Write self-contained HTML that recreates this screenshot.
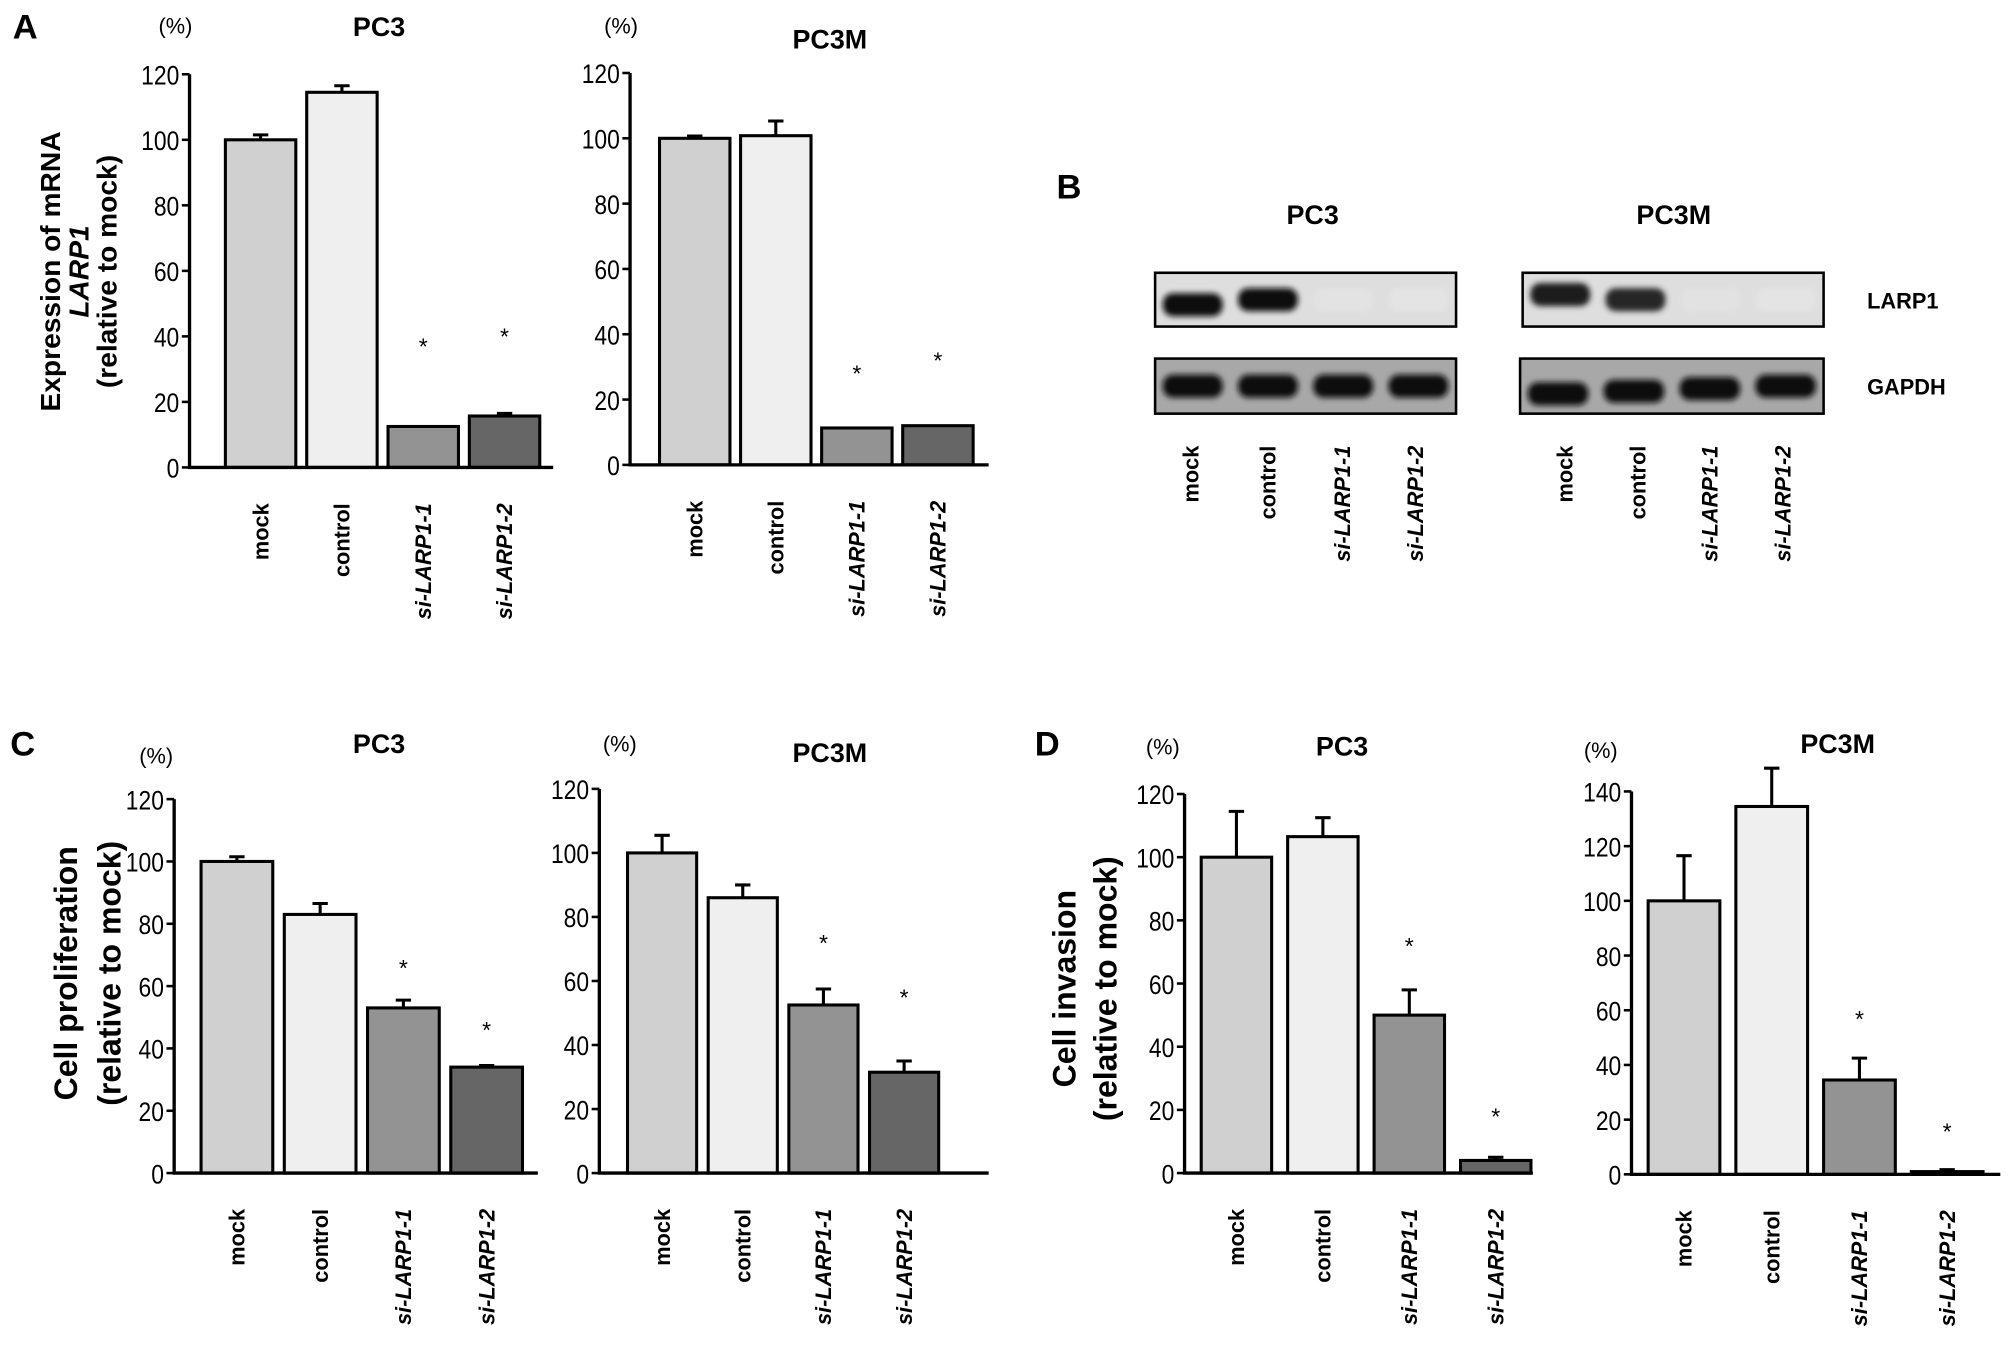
<!DOCTYPE html>
<html><head><meta charset="utf-8">
<style>
html,body{margin:0;padding:0;background:#fff;}
svg{display:block;font-family:"Liberation Sans",Arial,sans-serif;font-weight:bold;}
</style></head>
<body>
<svg id="fig" xmlns="http://www.w3.org/2000/svg" width="2008" height="1358" viewBox="0 0 1568 1060.4" preserveAspectRatio="none">
<defs>
<filter id="blur" x="-20%" y="-50%" width="140%" height="200%"><feGaussianBlur stdDeviation="2.2"/></filter>
</defs>
<g font-size="27">
<text x="10" y="30">A</text>
<text x="825" y="155">B</text>
<text x="8" y="590">C</text>
<text x="808" y="590">D</text>
</g>
<g font-size="22" text-anchor="middle">
<text transform="translate(47,212) rotate(-90)">Expression of mRNA</text>
<text transform="translate(69,212) rotate(-90)" font-style="italic">LARP1</text>
<text transform="translate(91,212) rotate(-90)">(relative to mock)</text>
<text font-size="25" transform="translate(60,760) rotate(-90)">Cell proliferation</text>
<text font-size="25" transform="translate(94,760) rotate(-90)">(relative to mock)</text>
<text font-size="25" transform="translate(840,772) rotate(-90)">Cell invasion</text>
<text font-size="25" transform="translate(872,772) rotate(-90)">(relative to mock)</text>
</g>
<g id="blots"></g>
<g id="charts"></g>
</svg>
<script>
// ---- data ----
const categories = ["mock","control","si-LARP1-1","si-LARP1-2"];
const italicCats = [false,false,true,true];
const colors = ["#d0d0d0","#efefef","#939393","#666666"];

const aPc3Values = [100, 114.5, 12.5, 15.7];
const aPc3Errors = [1.5, 2, 0, 0.8];
const aPc3Stars = [null, null, 38, 41];
const aPc3mValues = [100, 100.8, 11.3, 12];
const aPc3mErrors = [0.7, 4.5, 0, 0];
const aPc3mStars = [null, null, 29, 33];

const cPc3Values = [100, 83, 53, 34];
const cPc3Errors = [1.5, 3.5, 2.5, 0.5];
const cPc3Stars = [null, null, 67, 47];
const cPc3mValues = [100, 86, 52.5, 31.5];
const cPc3mErrors = [5.5, 4, 5, 3.5];
const cPc3mStars = [null, null, 73, 56];

const dPc3Values = [100, 106.5, 50, 4];
const dPc3Errors = [14.5, 6, 8, 1];
const dPc3Stars = [null, null, 73, 19];
const dPc3mValues = [100, 134.5, 34.5, 1];
const dPc3mErrors = [16.5, 14, 8, 0.7];
const dPc3mStars = [null, null, 58, 17];

const ticks120 = [0,20,40,60,80,100,120];
const ticks140 = [0,20,40,60,80,100,120,140];

const blotPc3Larp1 = [1, 1, 0.03, 0.01];
const blotPc3mLarp1 = [0.95, 0.9, 0.05, 0.01];
const blotGapdh = [1, 1, 1, 1];

const NS = "http://www.w3.org/2000/svg";
function mk(tag, attrs, parent){
  const e = document.createElementNS(NS, tag);
  for (const k in attrs) e.setAttribute(k, attrs[k]);
  parent.appendChild(e);
  return e;
}
const root = document.getElementById('charts');

function chart(cfg){
  const g = mk('g', {}, root);
  
  
  const yMax = cfg.ticks[cfg.ticks.length-1];
  const ys = v => cfg.y0 - (v / yMax) * (cfg.y0 - cfg.yTop);
  const t = mk('text', {x: cfg.titleX, y: cfg.titleY, 'text-anchor':'middle', 'font-size':21}, g);
  t.textContent = cfg.title;
  
  
  const pc = mk('text', {x: cfg.pctX, y: cfg.pctY, 'text-anchor':'middle', 'font-size':17, 'font-weight':'normal'}, g);
  pc.textContent = "(%)";
  
  
  const n = cfg.values.length;
  for (let i = 0; i < n; i++){
    const x0 = cfg.xL + cfg.bw0 + i * cfg.step;
    const v = cfg.values[i];
    const top = ys(v);
    const r = mk('rect', {x: x0, y: top, width: cfg.bw, height: cfg.y0 - top, fill: colors[i], stroke: '#000', 'stroke-width': 2.4}, g);
    
    
    const e = cfg.errors[i];
    if (e > 0){
      const cx = x0 + cfg.bw/2, ye = ys(v + e);
      const l = mk('path', {d: `M${cx},${top} V${ye} M${cx-6},${ye} H${cx+6}`, stroke:'#000', 'stroke-width':2.4, fill:'none'}, g);
      
      
    }
    if (cfg.stars[i] != null){
      const s = mk('text', {x: x0 + cfg.bw/2, y: ys(cfg.stars[i]) + 9, 'text-anchor':'middle', 'font-size':18, 'font-weight':'normal'}, g);
      s.textContent = "*";
      
      
    }
    const lab = mk('text', {transform:`translate(${x0 + cfg.bw/2 + 6},${cfg.y0 + 28}) rotate(-90)`, 'text-anchor':'end', 'font-size':17, 'font-style': italicCats[i] ? 'italic' : 'normal'}, g);
    lab.textContent = categories[i];
    
    
  }
  const ax = mk('path', {d:`M${cfg.xL},${cfg.yTop} V${cfg.y0} H${cfg.xR}`, stroke:'#000', 'stroke-width':2.6, fill:'none'}, g);
  
  
  cfg.ticks.forEach(tv => {
    const y = ys(tv);
    const tk = mk('line', {x1: cfg.xL - 6, x2: cfg.xL, y1: y, y2: y, stroke:'#000', 'stroke-width':2}, g);
    
    
    const tl = mk('text', {x: cfg.xL - 8, y: y + 8, 'text-anchor':'end', 'font-size':21, 'font-weight':'normal', transform:`translate(${cfg.xL-8},0) scale(0.85,1) translate(${-(cfg.xL-8)},0)`}, g);
    tl.textContent = tv;
    
    
  });
}

chart({name:'chart-a-pc3', title:'PC3', titleX:296, titleY:28, pctX:137, pctY:26, values:aPc3Values, errors:aPc3Errors, stars:aPc3Stars, ticks:ticks120, xL:148, xR:432, y0:365, yTop:58, bw0:28, bw:55, step:63.5});
chart({name:'chart-a-pc3m', title:'PC3M', titleX:648, titleY:38, pctX:485, pctY:26, values:aPc3mValues, errors:aPc3mErrors, stars:aPc3mStars, ticks:ticks120, xL:492, xR:772, y0:363, yTop:57, bw0:23, bw:55, step:63.3});
chart({name:'chart-c-pc3', title:'PC3', titleX:296, titleY:588, pctX:122, pctY:596, values:cPc3Values, errors:cPc3Errors, stars:cPc3Stars, ticks:ticks120, xL:136, xR:420, y0:916, yTop:624, bw0:21, bw:56, step:65});
chart({name:'chart-c-pc3m', title:'PC3M', titleX:648, titleY:595, pctX:484, pctY:587, values:cPc3mValues, errors:cPc3mErrors, stars:cPc3mStars, ticks:ticks120, xL:468, xR:772, y0:916, yTop:616, bw0:22, bw:54, step:63});
chart({name:'chart-d-pc3', title:'PC3', titleX:1048, titleY:590, pctX:908, pctY:589, values:dPc3Values, errors:dPc3Errors, stars:dPc3Stars, ticks:ticks120, xL:925, xR:1197, y0:916, yTop:620, bw0:13, bw:55, step:67.5});
chart({name:'chart-d-pc3m', title:'PC3M', titleX:1435, titleY:588, pctX:1250, pctY:592, values:dPc3mValues, errors:dPc3mErrors, stars:dPc3mStars, ticks:ticks140, xL:1274, xR:1562, y0:917, yTop:618, bw0:13, bw:56, step:68.5});

// ---- blots ----
const broot = document.getElementById('blots');
function blot(name, x, y, w, h, vals, dy){
  const g = mk('g', {}, broot);
  
  
  const r = mk('rect', {x:x, y:y, width:w, height:h, fill: vals === blotGapdh ? '#a8a8a8' : '#dedede', stroke:'#000', 'stroke-width':2}, g);
  
  
  const lane = w / 4;
  vals.forEach((v, i) => {
    const c = Math.round(255 - v * 240);
    const b = mk('rect', {x: x + i*lane + 6, y: y + h/2 - 9 + (dy ? dy[i] : 0), width: lane - 12, height: 18, rx: 8, fill: `rgb(${c},${c},${c})`, opacity: v < 0.1 ? 0.2 : 1, filter:'url(#blur)'}, g);
    
    
  });
}
blot('blot-pc3-larp1', 902, 213, 235, 42, blotPc3Larp1, [4,0,0,0]);
blot('blot-pc3-gapdh', 902, 280, 235, 43, blotGapdh, [0,0,0,0]);
blot('blot-pc3m-larp1', 1189, 213, 235, 42, blotPc3mLarp1, [-4,0,0,0]);
blot('blot-pc3m-gapdh', 1187, 280, 237, 43, blotGapdh, [6,4,2,0]);

function txt(parent, s, attrs, name){
  const t = mk('text', attrs, parent);
  t.textContent = s;
  
  
}
txt(broot, 'PC3', {x:1025, y:175, 'text-anchor':'middle', 'font-size':21}, 'blot-title-pc3');
txt(broot, 'PC3M', {x:1307, y:175, 'text-anchor':'middle', 'font-size':21}, 'blot-title-pc3m');
txt(broot, 'LARP1', {x:1458, y:241, 'font-size':17}, 'blot-row-label-larp1');
txt(broot, 'GAPDH', {x:1458, y:308, 'font-size':17}, 'blot-row-label-gapdh');
const laneX = [[930,990,1048,1105],[1222,1279,1335,1392]];
laneX.forEach(arr => arr.forEach((lx, i) => {
  txt(broot, categories[i], {transform:`translate(${lx + 6},348) rotate(-90)`, 'text-anchor':'end', 'font-size':17, 'font-style': italicCats[i] ? 'italic' : 'normal'}, 'lane-label');
}));
</script>
</body></html>
